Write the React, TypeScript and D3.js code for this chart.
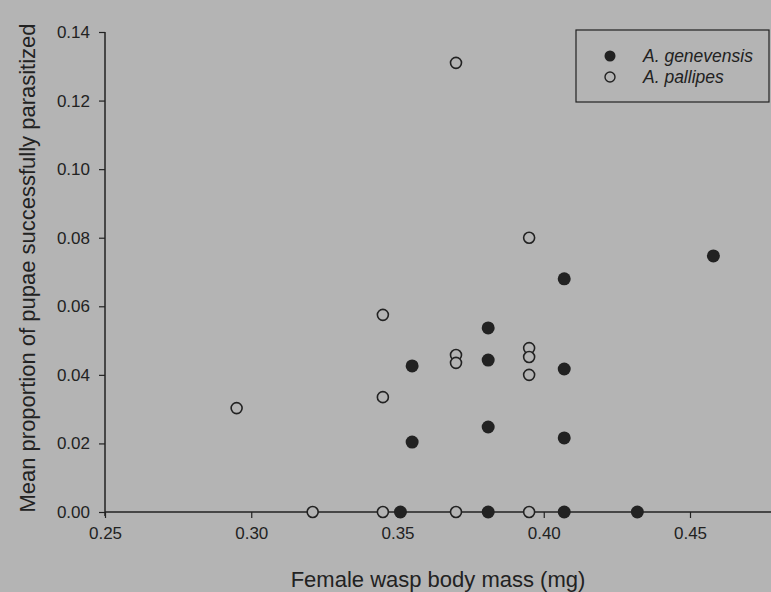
import * as d3 from 'd3';
import React, { useEffect, useRef } from 'react';

// A. genevensis (filled)
const genevensisMass = [0.351, 0.355, 0.355, 0.381, 0.381, 0.381, 0.381, 0.407, 0.407, 0.407, 0.407, 0.432, 0.458];
const genevensisProp = [0.0, 0.0426, 0.0204, 0.0537, 0.0443, 0.0248, 0.0, 0.068, 0.0417, 0.0216, 0.0, 0.0, 0.0747];

// A. pallipes (open)
const pallipesMass = [0.295, 0.321, 0.345, 0.345, 0.345, 0.37, 0.37, 0.37, 0.37, 0.395, 0.395, 0.395, 0.395, 0.395];
const pallipesProp = [0.0303, 0.0, 0.0575, 0.0335, 0.0, 0.131, 0.0458, 0.0435, 0.0, 0.08, 0.0478, 0.0452, 0.04, 0.0];

const xTicks = [0.25, 0.3, 0.35, 0.4, 0.45];
const yTicks = [0, 0.02, 0.04, 0.06, 0.08, 0.1, 0.12, 0.14];
const legendLabels = ['A. genevensis', 'A. pallipes'];

export default function App() {
  const svgRef = useRef<SVGSVGElement | null>(null);

  const width = 771;
  const height = 592;
  const ink = '#222';
  const bg = '#b4b4b4';

  useEffect(() => {
    const x = d3.scaleLinear().domain([0.25, 0.45]).range([105, 690]);
    const y = d3.scaleLinear().domain([0, 0.14]).range([512, 32]);

    const svg = d3.select(svgRef.current);
    svg.selectAll('*').remove();

    svg.append('rect')
      .attr('width', width)
      .attr('height', height)
      .attr('fill', bg);

    const font = 'Liberation Sans, Arial, sans-serif';

    // x axis
    svg.append('g')
      .attr('transform', `translate(0,${y(0)})`)
      .call(d3.axisBottom(x).tickValues(xTicks).tickFormat(d3.format('.2f')).tickSize(6).tickSizeOuter(0).tickPadding(9))
      .call(g => g.select('.domain').remove())
      .call(g => g.append('line')
        .attr('x1', x(0.25)).attr('x2', width)
        .attr('stroke', ink).attr('stroke-width', 1.5))
      .call(g => g.selectAll('.tick line').attr('stroke', ink).attr('stroke-width', 1.2))
      .call(g => g.selectAll('.tick text')
        .attr('fill', ink).attr('font-size', 17).attr('font-family', font));

    // y axis
    svg.append('g')
      .attr('transform', `translate(${x(0.25)},0)`)
      .call(d3.axisLeft(y).tickValues(yTicks).tickFormat(d3.format('.2f')).tickSize(6).tickSizeOuter(0).tickPadding(9))
      .call(g => g.select('.domain').remove())
      .call(g => g.append('line')
        .attr('y1', y(0.14)).attr('y2', y(0) + 4)
        .attr('stroke', ink).attr('stroke-width', 1.5))
      .call(g => g.selectAll('.tick line').attr('stroke', ink).attr('stroke-width', 1.2))
      .call(g => g.selectAll('.tick text')
        .attr('fill', ink).attr('font-size', 17).attr('font-family', font));

    // axis titles
    svg.append('text')
      .attr('x', 438)
      .attr('y', 587)
      .attr('text-anchor', 'middle')
      .attr('font-size', 22)
      .attr('font-family', font)
      .attr('fill', ink)
      .text('Female wasp body mass (mg)');

    svg.append('text')
      .attr('transform', `translate(35,${(y(0) + y(0.14)) / 2 - 4}) rotate(-90)`)
      .attr('text-anchor', 'middle')
      .attr('font-size', 22)
      .attr('font-family', font)
      .attr('fill', ink)
      .text('Mean proportion of pupae successfully parasitized');

    // points
    const gen = genevensisMass.map((m, i) => [m, genevensisProp[i]]);
    const pal = pallipesMass.map((m, i) => [m, pallipesProp[i]]);

    svg.append('g')
      .selectAll('circle')
      .data(pal)
      .join('circle')
      .attr('cx', d => x(d[0]))
      .attr('cy', d => y(d[1]))
      .attr('r', 5.5)
      .attr('fill', bg)
      .attr('stroke', ink)
      .attr('stroke-width', 1.6);

    svg.append('g')
      .selectAll('circle')
      .data(gen)
      .join('circle')
      .attr('cx', d => x(d[0]))
      .attr('cy', d => y(d[1]))
      .attr('r', 6.5)
      .attr('fill', ink);

    // legend
    const lg = svg.append('g');
    lg.append('rect')
      .attr('x', 576).attr('y', 30)
      .attr('width', 193).attr('height', 72)
      .attr('fill', 'none')
      .attr('stroke', ink)
      .attr('stroke-width', 1.2);
    legendLabels.forEach((label, i) => {
      const cy = 56 + i * 21;
      lg.append('circle')
        .attr('cx', 610).attr('cy', cy)
        .attr('r', i === 0 ? 5.5 : 5)
        .attr('fill', i === 0 ? ink : bg)
        .attr('stroke', ink)
        .attr('stroke-width', i === 0 ? 0 : 1.4);
      lg.append('text')
        .attr('x', 643).attr('y', cy + 6)
        .attr('font-size', 17.5)
        .attr('font-style', 'italic')
        .attr('font-family', font)
        .attr('fill', ink)
        .text(label);
    });
  }, []);

  return (
    <svg
      ref={svgRef}
      width={width}
      height={height}
      style={{ position: 'absolute', left: 0, top: 0, display: 'block' }}
    />
  );
}
